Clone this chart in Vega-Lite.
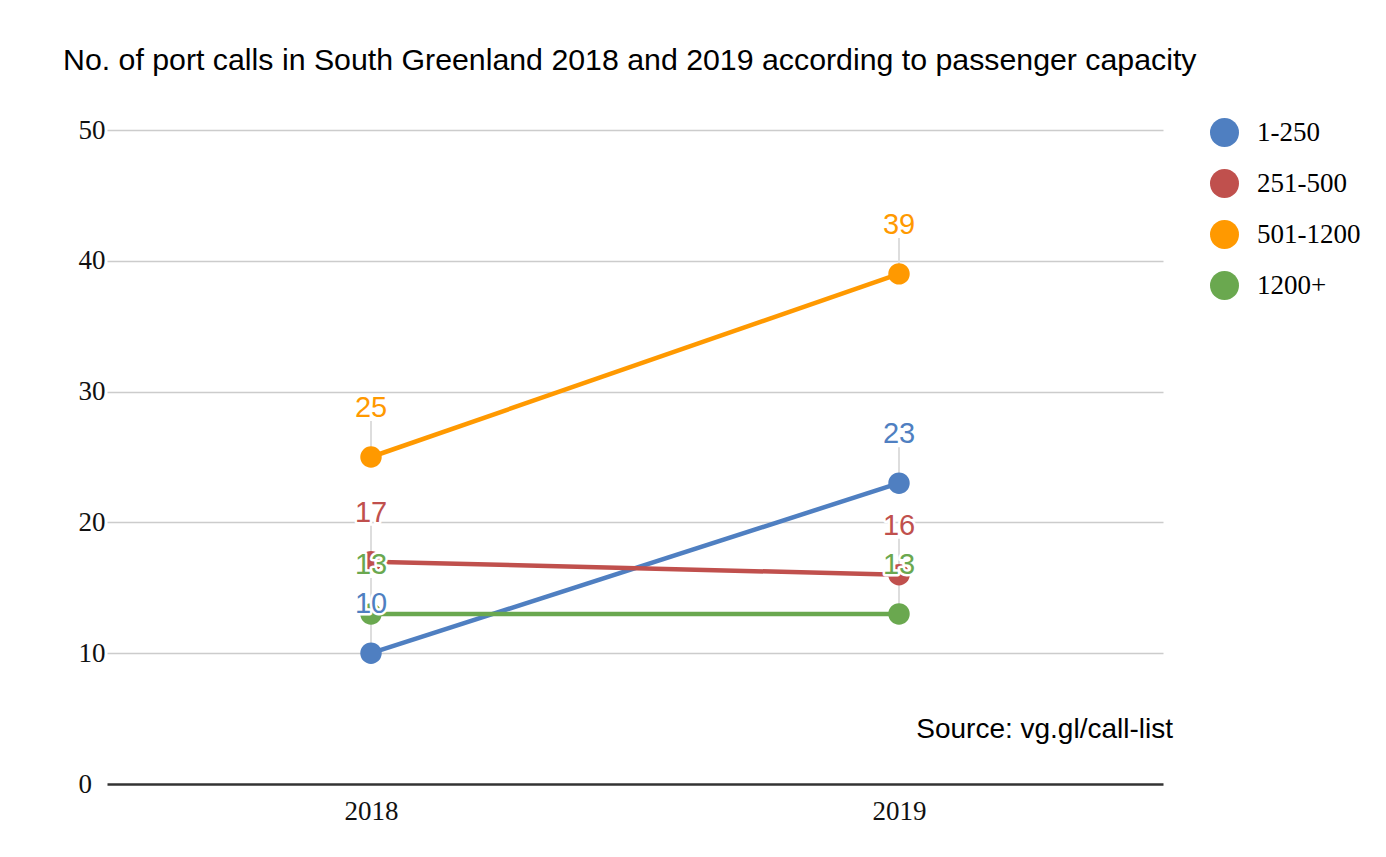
{
  "$schema": "https://vega.github.io/schema/vega-lite/v6.json",
  "width": 1056,
  "height": 654,
  "autosize": {"type": "none"},
  "padding": {"left": 107, "top": 130, "right": 223, "bottom": 73},
  "background": "white",
  "title": {
    "text": "No. of port calls in South Greenland 2018 and 2019 according to passenger capacity",
    "anchor": "start",
    "frame": "group",
    "dx": -44,
    "offset": 40,
    "font": "Liberation Sans",
    "fontSize": 30.3,
    "fontWeight": "normal",
    "color": "#000000"
  },
  "data": {
    "values": [
      {"year": "2018", "capacity": "1-250", "calls": 10},
      {"year": "2019", "capacity": "1-250", "calls": 23},
      {"year": "2018", "capacity": "251-500", "calls": 17},
      {"year": "2019", "capacity": "251-500", "calls": 16},
      {"year": "2018", "capacity": "501-1200", "calls": 25},
      {"year": "2019", "capacity": "501-1200", "calls": 39},
      {"year": "2018", "capacity": "1200+", "calls": 13},
      {"year": "2019", "capacity": "1200+", "calls": 13}
    ]
  },
  "layer": [
    {
      "mark": {"type": "rule", "color": "#dddddd", "strokeWidth": 2, "y2Offset": -36},
      "encoding": {
        "x": {
          "field": "year",
          "type": "ordinal",
          "scale": {"type": "point", "padding": 0.5},
          "axis": {
            "title": null,
            "domain": false,
            "ticks": false,
            "tickSize": 0,
            "labelAngle": 0,
            "labelPadding": 14,
            "grid": false
          }
        },
        "y": {
          "field": "calls",
          "type": "quantitative",
          "scale": {"domain": [0, 50], "nice": false},
          "axis": {
            "title": null,
            "values": [0, 10, 20, 30, 40, 50],
            "domain": false,
            "ticks": false,
            "tickSize": 0,
            "labelAlign": "left",
            "labelBaseline": "middle",
            "labelPadding": 29,
            "grid": true,
            "gridColor": {"condition": {"test": "datum.value === 0", "value": "#333333"}, "value": "#cccccc"},
            "gridWidth": {"condition": {"test": "datum.value === 0", "value": 2.5}, "value": 1.5}
          }
        },
        "y2": {"field": "calls"}
      }
    },
    {
      "mark": {"type": "line", "strokeWidth": 4.5},
      "encoding": {
        "x": {"field": "year", "type": "ordinal"},
        "y": {"field": "calls", "type": "quantitative"},
        "color": {
          "field": "capacity",
          "type": "nominal",
          "scale": {"domain": ["1-250", "251-500", "501-1200", "1200+"], "range": ["#4f7fc1", "#c0504d", "#ff9900", "#6aa84f"]}
        }
      }
    },
    {
      "mark": {"type": "point", "filled": true, "size": 460, "opacity": 1},
      "encoding": {
        "x": {"field": "year", "type": "ordinal"},
        "y": {"field": "calls", "type": "quantitative"},
        "color": {
          "field": "capacity",
          "type": "nominal",
          "legend": {
            "title": null,
            "orient": "none",
            "legendX": 1103,
            "legendY": -12,
            "symbolType": "circle",
            "symbolSize": 841,
            "symbolStrokeWidth": 0,
            "symbolOpacity": 1,
            "labelFont": "Liberation Serif",
            "labelFontSize": 27,
            "labelColor": "#000000",
            "labelOffset": 18,
            "rowPadding": 22,
            "padding": 0
          }
        }
      }
    },
    {
      "mark": {"type": "text", "dy": -40, "baseline": "alphabetic", "align": "center", "font": "Liberation Sans", "fontSize": 29, "fill": "white", "stroke": "white", "strokeWidth": 5, "strokeJoin": "round"},
      "encoding": {
        "x": {"field": "year", "type": "ordinal"},
        "y": {"field": "calls", "type": "quantitative"},
        "text": {"field": "calls", "type": "quantitative"}
      }
    },
    {
      "mark": {"type": "text", "dy": -40, "baseline": "alphabetic", "align": "center", "font": "Liberation Sans", "fontSize": 29},
      "encoding": {
        "x": {"field": "year", "type": "ordinal"},
        "y": {"field": "calls", "type": "quantitative"},
        "text": {"field": "calls", "type": "quantitative"},
        "color": {"field": "capacity", "type": "nominal"}
      }
    },
    {
      "data": {"values": [{"note": "Source: vg.gl/call-list"}]},
      "mark": {"type": "text", "align": "right", "baseline": "middle", "dx": 274, "font": "Liberation Sans", "fontSize": 28, "fill": "#000000"},
      "encoding": {
        "x": {"datum": "2019", "type": "ordinal"},
        "y": {"datum": 4.13, "type": "quantitative"},
        "text": {"field": "note", "type": "nominal"}
      }
    }
  ],
  "config": {
    "view": {"stroke": null},
    "axis": {
      "labelFont": "Liberation Serif",
      "labelFontSize": 27,
      "labelColor": "#111111"
    }
  }
}
